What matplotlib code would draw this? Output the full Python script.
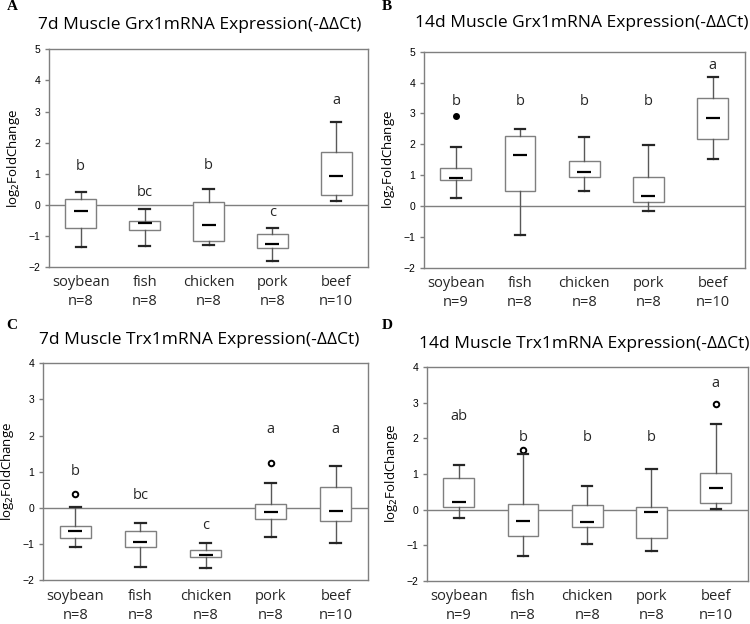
import matplotlib
matplotlib.use("Agg")
import matplotlib.pyplot as plt
import numpy as np

plt.rcParams['font.family'] = ['Open Sans', 'DejaVu Sans']

diets = ['soybean', 'fish', 'chicken', 'pork', 'beef']

# panel A: 7d Grx1
a_n = [8, 8, 8, 8, 10]
a_whislo = [-1.37, -1.33, -1.28, -1.79, 0.11]
a_q1 = [-0.73, -0.82, -1.17, -1.40, 0.33]
a_med = [-0.19, -0.58, -0.64, -1.25, 0.92]
a_q3 = [0.18, -0.52, 0.08, -0.93, 1.69]
a_whishi = [0.42, -0.14, 0.50, -0.76, 2.66]
a_fliers = [[], [], [], [], []]
a_letters = ['b', 'bc', 'b', 'c', 'a']
a_letter_y = [1.22, 0.39, 1.28, -0.25, 3.34]

# panel B: 14d Grx1
b_n = [9, 8, 8, 8, 10]
b_whislo = [0.25, -0.93, 0.48, -0.16, 1.52]
b_q1 = [0.84, 0.48, 0.93, 0.12, 2.16]
b_med = [0.90, 1.65, 1.11, 0.31, 2.85]
b_q3 = [1.23, 2.28, 1.46, 0.93, 3.50]
b_whishi = [1.90, 2.49, 2.25, 1.99, 4.17]
b_fliers = [[2.91], [], [], [], []]
b_letters = ['b', 'b', 'b', 'b', 'a']
b_letter_y = [3.38, 3.38, 3.38, 3.38, 4.57]

# panel C: 7d Trx1
c_n = [8, 8, 8, 8, 10]
c_whislo = [-1.08, -1.64, -1.67, -0.79, -0.96]
c_q1 = [-0.82, -1.08, -1.35, -0.30, -0.37]
c_med = [-0.65, -0.94, -1.30, -0.10, -0.08]
c_q3 = [-0.51, -0.63, -1.15, 0.10, 0.57]
c_whishi = [0.02, -0.41, -0.98, 0.70, 1.17]
c_fliers = [[0.38], [], [], [1.23], []]
c_letters = ['b', 'bc', 'c', 'a', 'a']
c_letter_y = [1.02, 0.35, -0.49, 2.17, 2.17]

# panel D: 14d Trx1
d_n = [9, 8, 8, 8, 10]
d_whislo = [-0.23, -1.31, -0.96, -1.17, 0.01]
d_q1 = [0.06, -0.74, -0.50, -0.80, 0.19]
d_med = [0.20, -0.33, -0.35, -0.08, 0.61]
d_q3 = [0.89, 0.17, 0.13, 0.06, 1.04]
d_whishi = [1.26, 1.55, 0.65, 1.14, 2.40]
d_fliers = [[], [1.68], [], [], [2.95]]
d_letters = ['ab', 'b', 'b', 'b', 'a']
d_letter_y = [2.61, 2.03, 2.03, 2.03, 3.54]

panels = [
    ('A', '7d Muscle Grx1mRNA Expression(-ΔΔCt)', a_n, a_whislo, a_q1, a_med, a_q3, a_whishi, a_fliers,
     a_letters, a_letter_y, (-2, 5), [0.065, 0.572, 0.426, 0.349], (0.266, 0.960), (0.016, 0.989), False),
    ('B', '14d Muscle Grx1mRNA Expression(-ΔΔCt)', b_n, b_whislo, b_q1, b_med, b_q3, b_whishi, b_fliers,
     b_letters, b_letter_y, (-2, 5), [0.565, 0.571, 0.428, 0.346], (0.776, 0.963), (0.516, 0.989), True),
    ('C', '7d Muscle Trx1mRNA Expression(-ΔΔCt)', c_n, c_whislo, c_q1, c_med, c_q3, c_whishi, c_fliers,
     c_letters, c_letter_y, (-2, 4), [0.057, 0.070, 0.434, 0.348], (0.265, 0.455), (0.016, 0.479), False),
    ('D', '14d Muscle Trx1mRNA Expression(-ΔΔCt)', d_n, d_whislo, d_q1, d_med, d_q3, d_whishi, d_fliers,
     d_letters, d_letter_y, (-2, 4), [0.569, 0.069, 0.428, 0.343], (0.779, 0.449), (0.516, 0.479), False),
]

fig = plt.figure(figsize=(7.5, 6.24), dpi=100)

for (tag, title, n, wlo, q1, med, q3, whi, fl, letters, ly, ylim, rect, tpos, lpos, filled) in panels:
    ax = fig.add_axes(rect)
    stats = []
    for i in range(5):
        stats.append(dict(whislo=wlo[i], q1=q1[i], med=med[i], q3=q3[i], whishi=whi[i], fliers=fl[i]))
    pos = np.arange(1, 6)
    ax.axhline(0, color='#7f7f7f', lw=1, zorder=1)
    if filled:
        fp = dict(marker='o', markerfacecolor='black', markeredgecolor='black', markersize=4)
    else:
        fp = dict(marker='o', markerfacecolor='white', markeredgecolor='black', markersize=4, markeredgewidth=1.4)
    ax.bxp(stats, positions=pos, widths=0.48, patch_artist=True, showfliers=True, capwidths=0.16,
           boxprops=dict(facecolor='white', edgecolor='#7f7f7f', lw=1, zorder=2),
           whiskerprops=dict(color='#595959', lw=1, zorder=2),
           capprops=dict(color='#262626', lw=1.6, zorder=3),
           medianprops=dict(lw=0),
           flierprops=fp)
    ax.plot(pos, med, linestyle='none', marker='_', markersize=10, markeredgewidth=1.6, color='black', zorder=4)
    for i in range(5):
        ax.text(pos[i], ly[i], letters[i], ha='center', va='center', fontsize=10.5, color='#262626')
    ax.set_xlim(0.5, 5.5)
    ax.set_ylim(*ylim)
    ax.set_yticks(np.arange(ylim[0], ylim[1] + 1))
    ax.set_xticks(pos)
    ax.set_xticklabels([f'{d}\nn={k}' for d, k in zip(diets, n)], fontsize=10.5, linespacing=1.35)
    ax.tick_params(axis='x', length=0, pad=6, colors='#262626')
    ax.tick_params(axis='y', length=3, width=1, color='#7f7f7f', labelsize=7.5, pad=3,
                   labelfontfamily='Liberation Sans')
    for s in ax.spines.values():
        s.set_color('#7f7f7f')
        s.set_linewidth(1)
    ax.set_ylabel('log$_2$FoldChange', fontsize=9.5, labelpad=5)
    fig.text(tpos[0], tpos[1], title, ha='center', va='center', fontsize=12.5)
    fig.text(lpos[0], lpos[1], tag, ha='center', va='center', fontsize=11, fontweight='bold',
             family='Liberation Serif')

fig.savefig('out.png', dpi=100)
